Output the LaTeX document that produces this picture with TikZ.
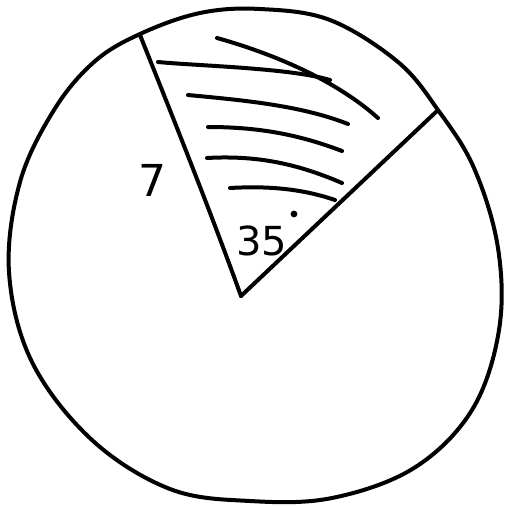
\documentclass[tikz,border=0pt]{standalone}
\usepackage{fontspec}
\setmainfont{DejaVu Sans}
\begin{document}
\begin{tikzpicture}[x=1pt,y=-1pt,
  pen/.style={line width=4pt,line cap=round,line join=round,black},
  hatch/.style={pen},
  lbl/.style={inner sep=0pt,font=\fontsize{44}{48}\selectfont}]
\useasboundingbox (0,0) rectangle (507,507);
% circle (hand drawn)
\draw[pen] plot[smooth cycle,tension=0.6] coordinates{
 (140,34) (200,13) (260,9) (330,20) (398,62) (438,110) (474,168) (498,248)
 (499,330) (472,410) (414,468) (332,498) (250,501) (170,489) (92,440)
 (32,362) (9,272) (20,182) (54,110) (94,62)};
% radii
\coordinate (O) at (241,296);
\coordinate (A) at (140,35);
\coordinate (B) at (437,111);
\draw[pen] (A) .. controls (170,110) and (210,210) .. (O);
\draw[pen] (O) -- (B);
% hatching
\draw[hatch] (217,38) .. controls (260,50) and (330,75) .. (378,118);
\draw[hatch] (158,62) .. controls (200,66) and (290,68) .. (330,80);
\draw[hatch] (188,95) .. controls (240,100) and (300,105) .. (348,124);
\draw[hatch] (208,127) .. controls (260,127) and (300,135) .. (342,151);
\draw[hatch] (207,158) .. controls (260,155) and (300,165) .. (342,183);
\draw[hatch] (230,188) .. controls (265,186) and (300,188) .. (335,200);
% labels
\node[lbl] (seven) at (152,180) {7};
\node[lbl,font=\fontsize{40}{44}\selectfont] (ang) at (262,241) {35};
\node[circle,fill=black,inner sep=2.4pt] (deg) at (294,214) {};
\end{tikzpicture}
\end{document}
